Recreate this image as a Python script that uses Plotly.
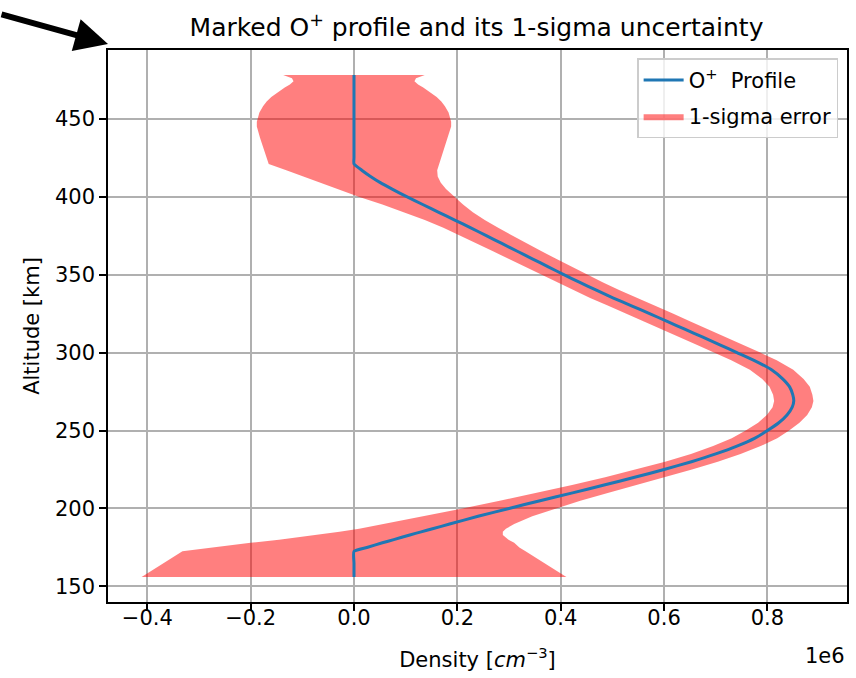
import plotly.graph_objects as go

# Altitude grid [km]
altitude_km = [156, 160, 165, 172.5, 175, 178, 180, 183, 185, 187, 190, 195, 200, 205, 210,
               215, 220, 225, 230, 235, 240, 245, 250, 255, 260, 265, 269, 273, 278, 283,
               289, 295, 300, 305, 310, 315, 320, 325, 330, 335, 340, 345, 350, 355, 360,
               365, 370, 375, 380, 385, 390, 395, 400, 405, 409, 413, 417, 421, 425, 428,
               431, 435, 438, 442, 445, 448, 451, 454, 458, 461, 464, 467, 470, 472, 474,
               476, 478]

# O+ density profile [1e6 cm^-3]
profile_1e6 = [0, 0, 0, 0, 0.025, 0.055, 0.077, 0.108, 0.13, 0.152, 0.185, 0.24, 0.30, 0.36, 0.423,
               0.484, 0.543, 0.600, 0.653, 0.700, 0.741, 0.775, 0.80, 0.822, 0.838, 0.848, 0.851, 0.849, 0.843, 0.830,
               0.808, 0.774, 0.741, 0.708, 0.674, 0.640, 0.606, 0.572, 0.537, 0.502, 0.469, 0.437, 0.406, 0.376, 0.346,
               0.316, 0.286, 0.256, 0.226, 0.195, 0.164, 0.133, 0.102, 0.073, 0.051, 0.032, 0.015, 0, 0, 0,
               0, 0, 0, 0, 0, 0, 0, 0, 0, 0, 0, 0, 0, 0, 0,
               0, 0]

# 1-sigma uncertainty [1e6 cm^-3]
sigma_1e6 = [0.411, 0.393, 0.368, 0.332, 0.295, 0.255, 0.222, 0.18, 0.158, 0.142, 0.125, 0.105, 0.09, 0.078, 0.068,
             0.062, 0.057, 0.054, 0.051, 0.048, 0.046, 0.044, 0.042, 0.040, 0.039, 0.038, 0.038, 0.038, 0.039, 0.040,
             0.042, 0.044, 0.045, 0.045, 0.045, 0.045, 0.045, 0.045, 0.045, 0.045, 0.045, 0.045, 0.045, 0.045, 0.046,
             0.047, 0.048, 0.050, 0.053, 0.058, 0.066, 0.078, 0.093, 0.105, 0.117, 0.130, 0.146, 0.165, 0.169, 0.172,
             0.175, 0.179, 0.182, 0.186, 0.188, 0.188, 0.186, 0.183, 0.176, 0.169, 0.160, 0.148, 0.134, 0.124, 0.117,
             0.120, 0.137]

x_tick_values = [-0.4, -0.2, 0.0, 0.2, 0.4, 0.6, 0.8]
x_tick_labels = ["\u22120.4", "\u22120.2", "0.0", "0.2", "0.4", "0.6", "0.8"]
y_tick_values = [150, 200, 250, 300, 350, 400, 450]

SCALE = 1e6
dens = [p * SCALE for p in profile_1e6]
sig = [s * SCALE for s in sigma_1e6]
upper = [d + s for d, s in zip(dens, sig)]
lower = [d - s for d, s in zip(dens, sig)]

FONT = "DejaVu Sans"
TXT = "black"

fig = go.Figure()
fig.add_trace(go.Scatter(
    x=upper + lower[::-1],
    y=altitude_km + altitude_km[::-1],
    fill="toself",
    fillcolor="rgba(255,0,0,0.5)",
    line=dict(width=0, color="rgba(0,0,0,0)"),
    mode="lines",
    name="1-sigma error",
    legendrank=2, legendgroup="b",
    hoverinfo="skip",
))
fig.add_trace(go.Scatter(
    x=dens, y=altitude_km,
    mode="lines",
    line=dict(color="#1f77b4", width=3, shape="spline", smoothing=0.5),
    name="O<sup>+</sup>  Profile",
    legendrank=1, legendgroup="a",
))

fig.update_layout(
    width=856, height=678,
    margin=dict(l=108, r=9, t=50, b=76, autoexpand=False),
    paper_bgcolor="white", plot_bgcolor="white",
    font=dict(family=FONT, size=21, color=TXT),
    title=dict(text="Marked O<sup>+</sup> profile and its 1-sigma uncertainty",
               x=0.5567, xanchor="center", y=0.9597, yanchor="middle",
               font=dict(size=25, family=FONT, color=TXT)),
    legend=dict(x=0.988, y=0.985, xanchor="right", yanchor="top",
                bgcolor="rgba(255,255,255,0.8)", bordercolor="#cccccc", borderwidth=1.5,
                font=dict(size=21, family=FONT, color=TXT), itemwidth=40,
                tracegroupgap=6),
    showlegend=True,
)

fig.update_xaxes(
    range=[-0.476 * SCALE, 0.954 * SCALE], automargin=False,
    tickvals=[v * SCALE for v in x_tick_values], ticktext=x_tick_labels,
    showgrid=True, gridcolor="#b0b0b0", gridwidth=1.5,
    zeroline=False, showline=True, linecolor="black", linewidth=1.5, mirror=True,
    ticks="outside", ticklen=7, tickwidth=1.5, tickcolor="black",
    ticklabelstandoff=-11,
    tickfont=dict(size=21, family=FONT, color=TXT),
    title=dict(text="Density [<i>cm</i><sup>\u22123</sup>]", standoff=23,
               font=dict(size=21, family=FONT, color=TXT)),
)
fig.update_yaxes(
    range=[140.0, 494.1], automargin=False,
    tickvals=y_tick_values,
    showgrid=True, gridcolor="#b0b0b0", gridwidth=1.5,
    zeroline=False, showline=True, linecolor="black", linewidth=1.5, mirror=True,
    ticks="outside", ticklen=7, tickwidth=1.5, tickcolor="black",
    ticklabelstandoff=0,
    tickfont=dict(size=21, family=FONT, color=TXT),
    title=dict(text="Altitude [km]", standoff=10,
               font=dict(size=21, family=FONT, color=TXT)),
)

# scale offset text
fig.add_annotation(text="1e6", xref="paper", yref="paper", x=1.0, y=-0.097,
                   xanchor="right", yanchor="middle", showarrow=False,
                   font=dict(size=21, family=FONT, color=TXT))

# black arrow pointing to the top-left corner of the axes
fig.add_annotation(text="", xref="paper", yref="paper", x=0.0, y=1.011,
                   ax=-112, ay=-30, showarrow=True, arrowhead=2, arrowsize=1.1,
                   arrowwidth=6, arrowcolor="black")

fig.write_html("out.html", config={"displayModeBar": False},
               post_script="document.body.style.margin='0px';")
